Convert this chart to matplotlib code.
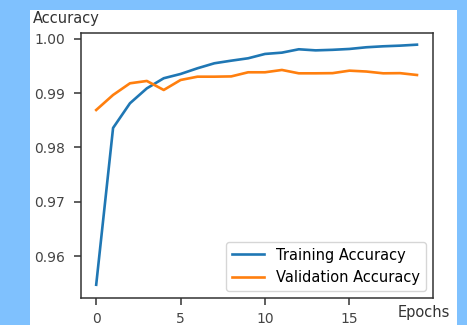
import matplotlib
matplotlib.use("Agg")
import matplotlib.pyplot as plt
from matplotlib.patches import Rectangle

epochs = list(range(20))
train_acc = [0.9547, 0.9836, 0.98815, 0.9909, 0.99276, 0.99355, 0.9946, 0.99552, 0.9960, 0.99644,
             0.99724, 0.99748, 0.9981, 0.9979, 0.9980, 0.99816, 0.99847, 0.99865, 0.99877, 0.99895]
val_acc = [0.98691, 0.98968, 0.99183, 0.99226, 0.9906, 0.99244, 0.99305, 0.99305, 0.9931, 0.99386,
           0.99386, 0.99429, 0.99367, 0.99367, 0.9937, 0.99416, 0.9940, 0.99367, 0.9937, 0.99336]
yticks = [0.96, 0.97, 0.98, 0.99, 1.00]
xticks = [0, 5, 10, 15]

fig = plt.figure(figsize=(4.67, 3.25), dpi=100, facecolor="#7fc1fe")
bg = Rectangle((30/467, 0), 427/467, 315/325, transform=fig.transFigure,
               facecolor="white", edgecolor="none", zorder=-10)
fig.add_artist(bg)
ax = fig.add_axes([81/467, 27/325, 352/467, 265/325])
ax.set_zorder(1)
ax.plot(epochs, train_acc, color="#1f77b4", lw=1.9, label="Training Accuracy")
ax.plot(epochs, val_acc, color="#ff7f0e", lw=1.9, label="Validation Accuracy")
ax.set_ylim(0.95226, 1.0011)
ax.set_xlim(-0.9, 19.95)
ax.set_yticks(yticks)
ax.set_yticklabels([f"{v:.2f}" for v in yticks])
ax.set_xticks(xticks)
for s in ax.spines.values():
    s.set_color("#333333")
    s.set_linewidth(1.1)
ax.tick_params(colors="#333333", labelcolor="#444444", labelsize=10, length=5, width=1.1)
ax.tick_params(axis="y", pad=6.5)
ax.tick_params(axis="x", pad=5)
ax.legend(loc="lower right", fontsize=10.5, handlelength=2.2, borderaxespad=0.5)
fig.text(33/467, 1 - 18/325, "Accuracy", fontsize=10.5, color="#333333", va="center", ha="left")
fig.text(398/467, 1 - 312/325, "Epochs", fontsize=10.5, color="#333333", va="center", ha="left")
fig.savefig("out.png", dpi=100, facecolor=fig.get_facecolor())
